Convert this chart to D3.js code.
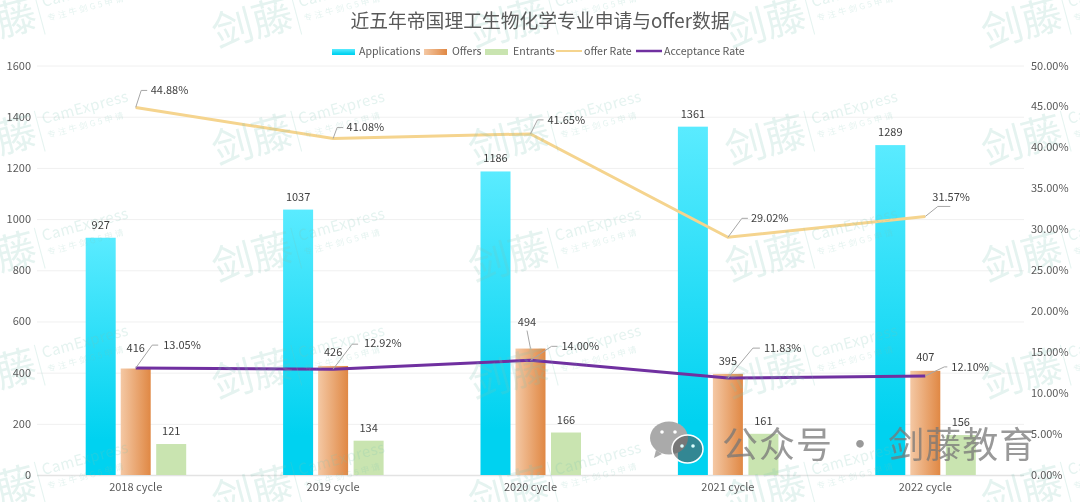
<!DOCTYPE html>
<html><head><meta charset="utf-8">
<script src="https://cdn.jsdelivr.net/npm/d3@7/dist/d3.min.js"></script>
<style>html,body{margin:0;padding:0;background:#fff}svg{display:block}text{font-family:"Noto Sans CJK SC","Noto Sans",sans-serif}</style>
</head><body><svg id="c" width="1080" height="502"></svg>
<script>
const categories=["2018 cycle","2019 cycle","2020 cycle","2021 cycle","2022 cycle"];
const applications=[927,1037,1186,1361,1289];
const offers=[416,426,494,395,407];
const entrants=[121,134,166,161,156];
const offerRate=[44.88,41.08,41.65,29.02,31.57];
const acceptanceRate=[13.05,12.92,14.00,11.83,12.10];
const leftTicks=[0,200,400,600,800,1000,1200,1400,1600];
const rightTicks=[0,5,10,15,20,25,30,35,40,45,50];
const legendNames=["Applications","Offers","Entrants","offer Rate","Acceptance Rate"];
const titleText="近五年帝国理工生物化学专业申请与offer数据";
const brandText="公众号 · 剑藤教育";

const svg=d3.select("#c");
const defs=svg.append("defs");
function grad(id,x2,y2,stops){const g=defs.append("linearGradient").attr("id",id).attr("x1",0).attr("y1",0).attr("x2",x2).attr("y2",y2);
 stops.forEach(s=>g.append("stop").attr("offset",s[0]).attr("stop-color",s[1]));}
grad("gA",0,1,[[0,"#5aebff"],[.85,"#00d2f0"],[1,"#00d2f0"]]);
grad("gO",1,0,[[0,"#f4c8a4"],[1,"#e08844"]]);

const x=d3.scaleBand().domain(categories).range([37,1024]);
const y=d3.scaleLinear().domain([0,1600]).range([475,65.5]);
const yR=d3.scaleLinear().domain([0,50]).range([475,65.5]);
const cx=c=>x(c)+x.bandwidth()/2;

// grid
svg.append("g").selectAll("line").data(leftTicks.slice(1)).join("line")
 .attr("x1",37).attr("x2",1024).attr("y1",d=>y(d)+.5).attr("y2",d=>y(d)+.5).attr("stroke","#f0f0f0");
svg.append("line").attr("x1",37).attr("x2",1024).attr("y1",475.5).attr("y2",475.5).attr("stroke","#e3e3e3").attr("stroke-width",1.5);

// bars
const barW=30;
const bars=(vals,offset,fill)=>svg.append("g").selectAll("rect").data(vals).join("rect")
 .attr("x",(d,i)=>cx(categories[i])+offset-barW/2).attr("width",barW).attr("y",d=>y(d)).attr("height",d=>475-y(d)).attr("fill",fill);
bars(applications,-35,"url(#gA)");
bars(offers,0,"url(#gO)");
bars(entrants,35.5,"#c9e4b0");

// lines
const line=s=>d3.line().x((d,i)=>cx(categories[i])).y(d=>yR(d))(s);
svg.append("path").attr("d",line(offerRate)).attr("fill","none").attr("stroke","#f5d48e").attr("stroke-width",3);
svg.append("path").attr("d",line(acceptanceRate)).attr("fill","none").attr("stroke","#7030a0").attr("stroke-width",3);

// watermark, semi-transparent over the marks
const wm=svg.append("g").attr("class","watermark").attr("fill","#7cc4b4").attr("opacity",.2);
d3.range(-1,5).forEach(i=>d3.range(0,5).forEach(j=>{
 const g=wm.append("g").attr("transform",`translate(${i*256.5+300},${j*117+7}) rotate(-15)`);
 g.append("text").attr("x",-91).attr("y",18).attr("font-size",41).text("剑藤");
 g.append("rect").attr("x",-6).attr("y",-15).attr("width",1).attr("height",42);
 g.append("text").attr("x",0).attr("y",0).attr("font-size",15).attr("letter-spacing",.4).text("CamExpress");
 g.append("text").attr("x",1).attr("y",15).attr("font-size",8.5).attr("letter-spacing",2.4).text("专注牛剑G5申请");
}));

// axes
const axL=svg.append("g").attr("transform","translate(31,0)").call(d3.axisLeft(y).tickValues(leftTicks).tickFormat(d3.format("d")).tickSize(0).tickPadding(0));
const axR=svg.append("g").attr("transform","translate(1031,0)").call(d3.axisRight(yR).tickValues(rightTicks).tickFormat(d=>d3.format(".2f")(d)+"%").tickSize(0).tickPadding(0));
const axB=svg.append("g").attr("transform","translate(0,475)").call(d3.axisBottom(x).tickSize(0).tickPadding(8));
[axL,axR,axB].forEach(a=>{a.select(".domain").remove();a.selectAll("text").attr("font-size",11).attr("fill","#595959").style("font-family",'"Noto Sans CJK SC"');});

// bar labels
const lab=(vals,offset,lift,shift)=>svg.append("g").selectAll("text").data(vals).join("text")
 .attr("x",(d,i)=>cx(categories[i])+offset+shift[i]).attr("y",(d,i)=>y(d)-lift[i]).attr("text-anchor","middle")
 .attr("font-size",11).attr("fill","#404040").text(d=>d);
lab(applications,-35,[9,9,9,9,9],[0,0,0,0,0]);
lab(offers,0,[17,10,23,9,10],[0,0,-3.5,0,0]);
lab(entrants,35.5,[9,9,9,9,9],[0,0,0,0,0]);
// leader of the moved 494 label
svg.append("line").attr("stroke","#a6a6a6")
 .attr("x1",cx(categories[2])).attr("y1",y(offers[2])).attr("x2",cx(categories[2])-3.5).attr("y2",y(offers[2])-18);

// rate labels with leaders
const leaders=(vals,dx1,dy1,dx2,tdx,tdy)=>{
 const g=svg.append("g");
 g.selectAll("path").data(vals).join("path").attr("fill","none").attr("stroke","#a6a6a6")
  .attr("d",(d,i)=>{const px=cx(categories[i]),py=yR(d);return `M${px},${py}L${px+dx1[i]},${py+dy1[i]}L${px+dx2[i]},${py+dy1[i]}`;});
 g.selectAll("text").data(vals).join("text").attr("x",(d,i)=>cx(categories[i])+tdx[i]).attr("y",(d,i)=>yR(d)+tdy[i])
  .attr("font-size",11).attr("fill","#404040").text(d=>d3.format(".2f")(d)+"%");
};
leaders(offerRate,[5.5,4,7,14,12.5],[-17,-11,-14,-19,-10],[11.5,10,13,20,25],[15,13.5,17,23,7],[-13,-8,-10,-15,-15]);
leaders(acceptanceRate,[16.5,19,21,25,19],[-23,-25,-14,-30,-9],[22.5,25,27,32,22],[27.5,31,31,36,26],[-19,-22,-10,-26,-5]);

// legend
const lx=[332,424,485,556,636],tx=[359,452,513,584,664];
const lg=svg.append("g");
legendNames.forEach((n,i)=>{
 if(i<3) lg.append("rect").attr("x",lx[i]).attr("y",49).attr("width",23).attr("height",6).attr("fill",["url(#gA)","url(#gO)","#c9e4b0"][i]);
 else lg.append("line").attr("x1",lx[i]).attr("x2",lx[i]+26).attr("y1",51).attr("y2",51).attr("stroke",i==3?"#f5d48e":"#7030a0").attr("stroke-width",i==3?2:2.5);
 lg.append("text").attr("x",tx[i]).attr("y",55).attr("font-size",10.6).attr("fill","#595959").text(n);
});
svg.append("text").attr("x",540).attr("y",28).attr("text-anchor","middle").attr("font-size",18.8).attr("fill","#595959").text(titleText);

// brand overlay
const b=svg.append("g");
b.append("text").attr("x",722).attr("y",458).attr("font-size",36).attr("fill","#777").attr("fill-opacity",.75).attr("letter-spacing",1).text(brandText);
b.append("path").attr("d","M656,450l-2,8l8,-4z").attr("fill","#aaa");
b.append("ellipse").attr("cx",669).attr("cy",438).attr("rx",19).attr("ry",16.5).attr("fill","#aaa");
b.append("ellipse").attr("cx",687.5).attr("cy",449).attr("rx",15.5).attr("ry",14).attr("fill","#555").attr("fill-opacity",.6).attr("stroke","#fff").attr("stroke-width",1.5);
[[662,432,"#fff"],[675,432,"#fff"],[682,446,"#dff"],[693,446,"#dff"]].forEach(e=>b.append("circle").attr("cx",e[0]).attr("cy",e[1]).attr("r",1.8).attr("fill",e[2]));
</script></body></html>
